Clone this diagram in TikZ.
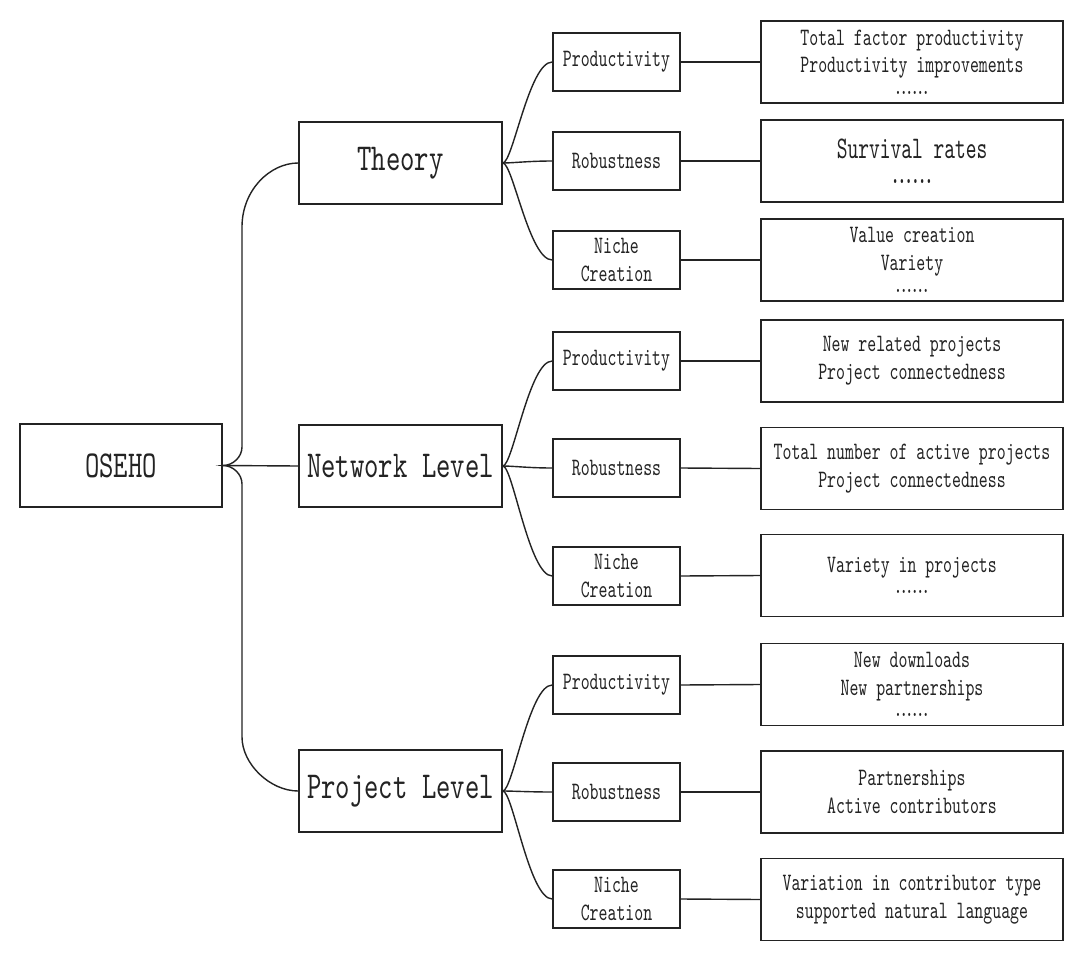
\documentclass[tikz,border=0pt]{standalone}
\usepackage{fontspec}
\newfontfamily\lvlfont[FakeStretch=0.72]{lmmono10-regular.otf}
\newfontfamily\itemfont[FakeStretch=0.68]{lmmono10-regular.otf}
\newfontfamily\survfont[FakeStretch=0.65]{lmmono10-regular.otf}
\definecolor{ink}{RGB}{35,35,35}
\newcommand\sixdots[1]{.\kern#1.\kern#1.\kern#1.\kern#1.\kern#1.}
\begin{document}
\begin{tikzpicture}[x=1pt,y=-1pt,
  box/.style={draw=ink, line width=1.6pt, rectangle, inner sep=0pt, align=center, text=ink},
  lvl/.style={box, minimum width=203pt, minimum height=82pt, font=\lvlfont\fontsize{38}{40}\selectfont},
  crit/.style={box, minimum width=127pt, minimum height=58pt, font=\itemfont\fontsize{25}{28.4}\selectfont},
  meas/.style={box, minimum width=302pt, minimum height=82pt, font=\itemfont\fontsize{25}{27.7}\selectfont},
  survmeas/.style={box, minimum width=302pt, minimum height=82pt, font=\survfont\fontsize{31.5}{25}\selectfont},
  link/.style={draw=ink, line width=1.4pt}
]
\fill[white] (0,0) rectangle (1080,956);
\useasboundingbox (0,0) rectangle (1080,956);

% root and levels
\node[lvl, minimum width=202pt, minimum height=83pt] (O) at (121,465.5) {OSEHO};
\node[lvl] (T) at (400.5,163) {Theory};
\node[lvl] (N) at (400.5,466) {Network Level};
\node[lvl] (P) at (400.5,791) {Project Level};

% criteria
\node[crit] (T1) at (616.5,62) {Productivity};
\node[crit] (T2) at (616.5,161) {Robustness};
\node[crit] (T3) at (616.5,260) {Niche\\Creation};
\node[crit] (N1) at (616.5,361) {Productivity};
\node[crit] (N2) at (616.5,468) {Robustness};
\node[crit] (N3) at (616.5,576) {Niche\\Creation};
\node[crit] (P1) at (616.5,685) {Productivity};
\node[crit] (P2) at (616.5,792) {Robustness};
\node[crit] (P3) at (616.5,899) {Niche\\Creation};

% measures
\node[meas] (TM1) at (912,62) {Total factor productivity\\Productivity improvements\\[-6pt]\sixdots{-3.4pt}};
\node[survmeas] (TM2) at (912,161) {Survival rates\\\sixdots{-4pt}};
\node[meas] (TM3) at (912,260) {Value creation\\Variety\\[-6pt]\sixdots{-3.4pt}};
\node[meas] (NM1) at (912,361) {New related projects\\Project connectedness};
\node[meas] (NM2) at (912,468.5) {Total number of active projects\\Project connectedness};
\node[meas] (NM3) at (912,575.5) {Variety in projects\\[-6pt]\sixdots{-3.4pt}};
\node[meas] (PM1) at (912,684.5) {New downloads\\New partnerships\\[-6pt]\sixdots{-3.4pt}};
\node[meas] (PM2) at (912,792) {Partnerships\\Active contributors};
\node[meas] (PM3) at (912,899.5) {Variation in contributor type\\supported natural language};

% trunk
\coordinate (a1) at (242,227);
\coordinate (a2) at (242,447);
\coordinate (b1) at (242,484);
\coordinate (b2) at (242,737);
\draw[link] (T.west) .. controls (270,163) and (242,190) .. (a1) -- (a2)
  .. controls (242,457) and (233,465.5) .. (O.east)
  .. controls (233,465.5) and (242,474) .. (b1) -- (b2)
  .. controls (242,764) and (270,791) .. (P.west);
\draw[link] (O.east) -- (N.west);

% level to criteria
\foreach \l in {T,N,P}{
  \foreach \i in {1,2,3}{
    \draw[link] (\l.east) .. controls +(10,0) and +(-23,0) .. (\l\i.west);
    \draw[link] (\l\i.east) -- (\l M\i.west);
  }
}
\end{tikzpicture}
\end{document}
